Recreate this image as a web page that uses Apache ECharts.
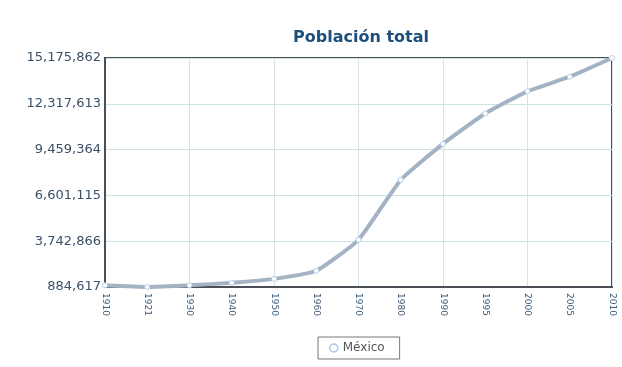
<!DOCTYPE html>
<html>
<head>
<meta charset="utf-8">
<script src="https://cdn.jsdelivr.net/npm/echarts@6/dist/echarts.min.js"></script>
<style>html,body{margin:0;padding:0;background:#fff}#c{width:622px;height:367px}</style>
</head>
<body>
<div id="c"></div>
<script>
var categories = ['1910','1921','1930','1940','1950','1960','1970','1980','1990','1995','2000','2005','2010'];
var mexico = [989510, 884617, 990112, 1146034, 1392623, 1897851, 3833185, 7564335, 9815795, 11707964, 13096686, 14007495, 15175862];
var yMin = 884617;
var yMax = 15175862;
var yStep = 2858249;

var chart = echarts.init(document.getElementById('c'));
chart.setOption({
  animation: false,
  backgroundColor: '#ffffff',
  title: {
    text: 'Población total',
    left: 356, textAlign: 'center', top: 25,
    textStyle: { fontFamily: 'DejaVu Sans', fontSize: 16, fontWeight: 'bold', color: '#1c4f7c' }
  },
  legend: {
    data: [{ name: 'México', icon: 'circle' }],
    left: 318, top: 337,
    padding: [5, 15, 5, 11],
    itemWidth: 8, itemHeight: 8, itemGap: 9,
    borderColor: '#777', borderWidth: 1,
    textStyle: { fontFamily: 'DejaVu Sans', fontSize: 12, color: '#555' },
    itemStyle: { color: '#ffffff', borderColor: '#a9c6e4', borderWidth: 1.5 }
  },
  grid: {
    left: 105, right: 10, top: 58, bottom: 80,
    show: true, borderColor: '#4a4f55', borderWidth: 2, backgroundColor: '#ffffff'
  },
  xAxis: {
    type: 'category',
    data: categories,
    boundaryGap: false,
    axisLine: { show: true, lineStyle: { color: '#4a4f55', width: 2 } },
    axisTick: { show: false },
    axisLabel: { rotate: -90, interval: 0, fontFamily: 'DejaVu Sans', fontSize: 9, color: '#3a5a7a', margin: 6 },
    splitLine: { show: true, interval: function (i) { return i % 2 === 0; }, lineStyle: { color: '#d9e2e6', width: 1 } }
  },
  yAxis: {
    type: 'value',
    min: yMin, max: yMax, interval: yStep,
    axisLine: { show: true, lineStyle: { color: '#4a4f55', width: 2 } },
    axisTick: { show: false },
    axisLabel: {
      fontFamily: 'DejaVu Sans', fontSize: 13, color: '#3a5068', margin: 4,
      formatter: function (v) { return Math.round(v).toLocaleString('en-US'); }
    },
    splitLine: { show: true, lineStyle: { color: '#cfe3df', width: 1 } }
  },
  series: [{
    name: 'México',
    type: 'line',
    data: mexico,
    smooth: 0.15,
    lineStyle: { color: '#a3b3c4', width: 4 },
    symbol: 'circle', symbolSize: 5,
    itemStyle: { color: '#ffffff', borderColor: '#b8d0e8', borderWidth: 1 }
  }]
});
</script>
</body>
</html>
